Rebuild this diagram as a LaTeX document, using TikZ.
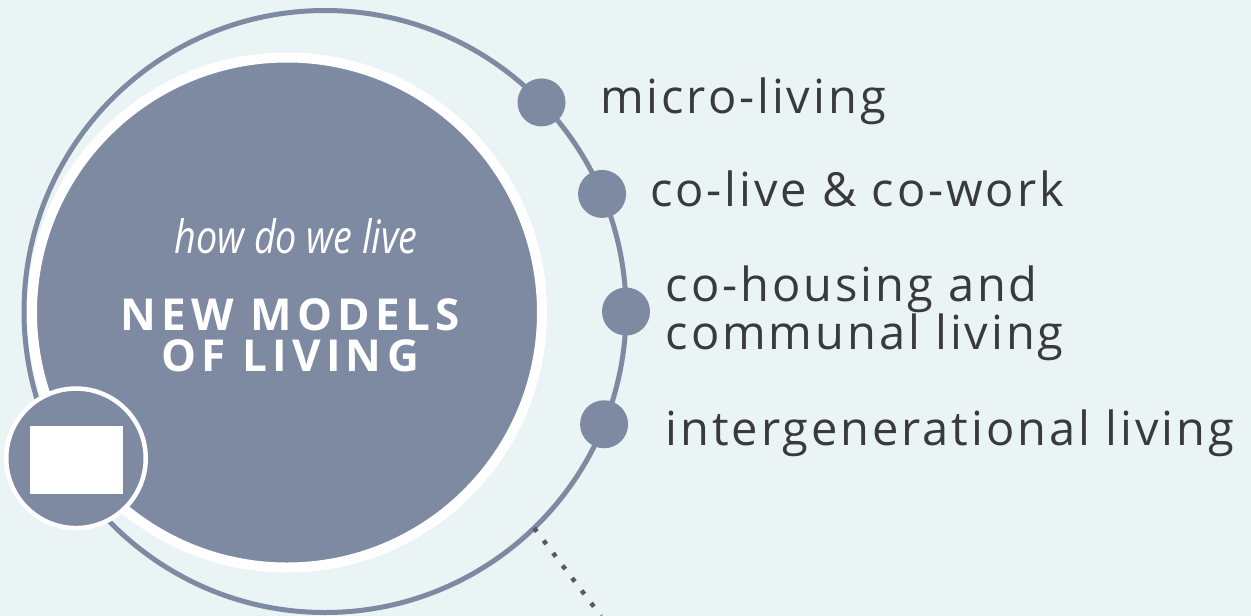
\documentclass[tikz,border=0pt]{standalone}
\usepackage{fontspec}
\setmainfont{Open Sans}
\newfontfamily\labelfont[LetterSpace=6.2]{Open Sans}
\newfontfamily\titlefont[LetterSpace=12]{Open Sans}
\newfontfamily\askfont[FakeStretch=0.82]{Open Sans}
\definecolor{ringblue}{HTML}{7E8AA2}
\definecolor{bgmint}{HTML}{EAF4F4}
\definecolor{labelgray}{HTML}{3A3A3A}
\definecolor{dotgray}{HTML}{595959}

\begin{document}
\begin{tikzpicture}[x=1pt,y=-1pt,
    ring/.style={circle,draw=ringblue,line width=5pt,inner sep=0pt,outer sep=0pt,minimum size=602pt},
    hub/.style={circle,fill=ringblue,draw=white,line width=10pt,inner sep=0pt,minimum size=510pt},
    badge/.style={circle,fill=ringblue,draw=white,line width=4.5pt,inner sep=0pt,minimum size=139.5pt},
    stopdot/.style={circle,fill=ringblue,inner sep=0pt,minimum size=48pt},
    itemlabel/.style={anchor=base west,inner sep=0pt,text=labelgray,align=left,
        font=\labelfont\fontsize{47}{47.5}\selectfont}]
        \fill [bgmint] (0,0) rectangle (1251,616);
        \useasboundingbox (0,0) rectangle (1251,616);
        \node [ring] (ring) at (325,311.5) {};
        \node [hub] (hub) at (287,312.5) {};
        \node [badge] (badge) at (76,458.3) {};
        \node [fill=white,inner sep=0pt,minimum width=93pt,minimum height=68pt] (pic) at (76.5,460) {};
        \node [stopdot] (s1) at (ring.44.3) {};
        \node [stopdot] (s2) at (ring.23.2) {};
        \node [stopdot] (s3) at (ring.0.3) {};
        \node [stopdot] (s4) at (ring.-22.2) {};
        \coordinate (tail) at (601,616);
        \draw [dotgray,line width=4.5pt,dash pattern=on 4.5pt off 11.2pt] (ring.-46.5) -- (tail);
        % last line of a two-line node sits on the given baseline
        \node [text=white,anchor=base,inner sep=0pt,font=\askfont\itshape\fontsize{46}{46}\selectfont] (ask) at (296,253) {how do we live};
        \node [text=white,anchor=base,inner sep=0pt,align=center,font=\titlefont\bfseries\fontsize{44}{41}\selectfont] (title) at (290,371) {NEW MODELS\\OF LIVING};
        \node [itemlabel] (l1) at (600,113) {micro-living};
        \node [itemlabel] (l2) at (650,206.7) {co-live \& co-work};
        \node [itemlabel] (l3) at (665.6,349) {co-housing and\\communal living};
        \node [itemlabel] (l4) at (665.6,445) {intergenerational living};
\end{tikzpicture}
\end{document}
